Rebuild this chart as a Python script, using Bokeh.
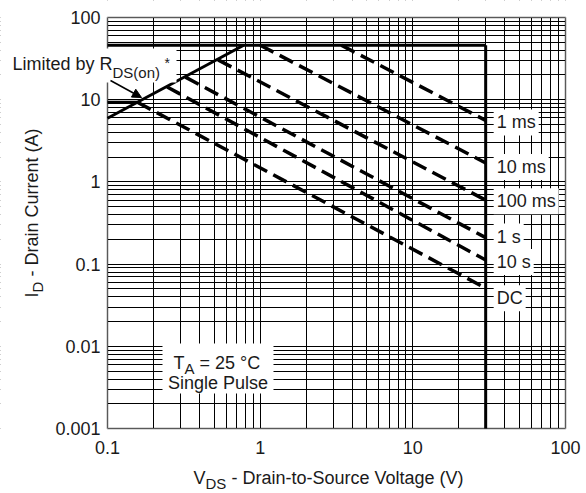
import math
from bokeh.plotting import figure
from bokeh.models import FixedTicker, Label, Arrow, NormalHead, BoxAnnotation
from bokeh.embed import file_html
from bokeh.resources import INLINE

# ---------------- data ----------------
pulse_labels = ["1 ms", "10 ms", "100 ms", "1 s", "10 s", "DC"]
pulse_v_start = [3.4, 1.0, 0.53, 0.324, 0.246, 0.157]
pulse_i_start = [46.0, 46.0, 30.5, 18.8, 14.3, 9.3]
pulse_v_end = [30.0, 30.0, 30.0, 30.0, 30.0, 30.0]
pulse_i_end = [5.6, 1.7, 0.60, 0.21, 0.112, 0.051]
pulse_label_dy = [-2, -4, -1, 1, -2, -10]   # label offset (px) from line end

rds_v = [0.1, 0.78]
rds_i = [5.95, 46.0]

limit_v = [0.1, 30.0]
limit_i = [46.0, 46.0]
bvdss_v = [30.0, 30.0]
bvdss_i = [46.0, 0.001]
dc_flat_v = [0.1, 0.157]
dc_flat_i = [9.3, 9.3]

x_ticks = [0.1, 1.0, 10.0, 100.0]
x_tick_labels = ["0.1", "1", "10", "100"]
y_ticks = [0.001, 0.01, 0.1, 1.0, 10.0, 100.0]
y_tick_labels = ["0.001", "0.01", "0.1", "1", "10", "100"]

x_minor = [k * 10.0 ** d for d in range(-1, 2) for k in range(2, 10)]
y_minor = [k * 10.0 ** d for d in range(-3, 2) for k in range(2, 10)]

FONT = "Liberation Sans"
TXT = "#1a1a1a"
W, H = 586, 493

# chart region in canvas pixels (used to place annotations)
FL, FR, FT, FB = 107, 565, 17, 428


def vx(px):
    return 10 ** (-1 + 3 * (px - FL) / (FR - FL))


def iy(py):
    return 10 ** (2 - 5 * (py - FT) / (FB - FT))


p = figure(x_axis_type="log", y_axis_type="log",
           x_range=(vx(0), vx(W)), y_range=(iy(H), iy(0)),
           frame_width=W, frame_height=H,
           min_border_left=0, min_border_right=0,
           min_border_top=0, min_border_bottom=0,
           output_backend="svg", toolbar_location=None, title=None)
p.background_fill_color = "white"
p.border_fill_color = "white"
p.outline_line_color = None

p.xaxis.ticker = FixedTicker(ticks=x_ticks, minor_ticks=x_minor)
p.yaxis.ticker = FixedTicker(ticks=y_ticks, minor_ticks=y_minor)
p.xaxis.major_label_overrides = dict(zip(x_ticks, x_tick_labels))
p.yaxis.major_label_overrides = dict(zip(y_ticks, y_tick_labels))
p.xaxis.fixed_location = y_ticks[0]
p.yaxis.fixed_location = x_ticks[0]
for ax in (p.xaxis, p.yaxis):
    ax.axis_line_color = None
    ax.major_tick_line_color = None
    ax.minor_tick_line_color = None
    ax.major_tick_out = 0
    ax.major_tick_in = 0
    ax.minor_tick_out = 0
    ax.minor_tick_in = 0
    ax.major_label_text_font = FONT
    ax.major_label_text_font_size = "18px"
    ax.major_label_text_color = TXT
p.yaxis.major_label_standoff = 7
p.xaxis.major_label_standoff = 12

p.grid.grid_line_color = "black"
p.grid.grid_line_width = 1
p.grid.minor_grid_line_color = "black"
p.grid.minor_grid_line_width = 1

# white masks so that the grid stays inside the chart region
for kw in (dict(right=x_ticks[0]), dict(left=x_ticks[-1]),
           dict(bottom=y_ticks[-1]), dict(top=y_ticks[0])):
    p.add_layout(BoxAnnotation(fill_color="white", fill_alpha=1, line_alpha=0,
                               level="underlay", **kw))

# ---------------- lines ----------------
p.line(limit_v, limit_i, line_color="black", line_width=3)
p.line(bvdss_v, bvdss_i, line_color="black", line_width=3)
p.line(rds_v, rds_i, line_color="black", line_width=3)
p.line(dc_flat_v, dc_flat_i, line_color="black", line_width=3)
p.segment(x0=pulse_v_start, y0=pulse_i_start, x1=pulse_v_end, y1=pulse_i_end,
          line_color="black", line_width=3.5, line_dash="15 7")

# chart border
p.add_layout(BoxAnnotation(left=x_ticks[0], right=x_ticks[-1],
                           bottom=y_ticks[0], top=y_ticks[-1],
                           fill_alpha=0, line_color="black", line_width=2))


def lab(x, y, text, size="18px", **kw):
    opts = dict(text_font=FONT, text_font_size=size, text_color=TXT,
                text_align="left", text_baseline="middle")
    opts.update(kw)
    p.add_layout(Label(x=x, y=y, text=text, **opts))


# ---------------- labels ----------------
for name, ie, vend, dy in zip(pulse_labels, pulse_i_end, pulse_v_end, pulse_label_dy):
    lab(vend, ie, name, x_offset=8, y_offset=dy,
        background_fill_color="white", padding=3)

# Limited by RDS(on)* note
p.add_layout(BoxAnnotation(left=vx(8), right=vx(176), top=iy(48), bottom=iy(82),
                           fill_color="white", fill_alpha=1, line_alpha=0))
lab(vx(12), iy(63), "Limited by R")
lab(vx(112), iy(72), "DS(on)", "15px")
lab(vx(164), iy(62), "*", "14px")
p.add_layout(Arrow(end=NormalHead(size=9, fill_color="black", line_color="black"),
                   x_start=vx(110), y_start=iy(80), x_end=vx(141), y_end=iy(97),
                   line_color="black", line_width=1.5))

# TA = 25 °C / Single Pulse
p.add_layout(BoxAnnotation(left=vx(162), right=vx(273), top=iy(343), bottom=iy(393),
                           fill_color="white", fill_alpha=1, line_alpha=0))
lab(vx(173), iy(362), "T")
lab(vx(184), iy(368), "A", "15px")
lab(vx(199), iy(362), "= 25 °C")
lab(vx(217.5), iy(382), "Single Pulse", text_align="center")

# axis titles
lab(vx(193), iy(477), "V")
lab(vx(205), iy(483), "DS", "15px")
lab(vx(231), iy(477), "- Drain-to-Source Voltage (V)")

lab(vx(31), iy(297), "I", angle=math.pi / 2)
lab(vx(37), iy(292), "D", "15px", angle=math.pi / 2)
lab(vx(31), iy(276), "- Drain Current (A)", angle=math.pi / 2)

open("out.html", "w").write(file_html(p, INLINE))
